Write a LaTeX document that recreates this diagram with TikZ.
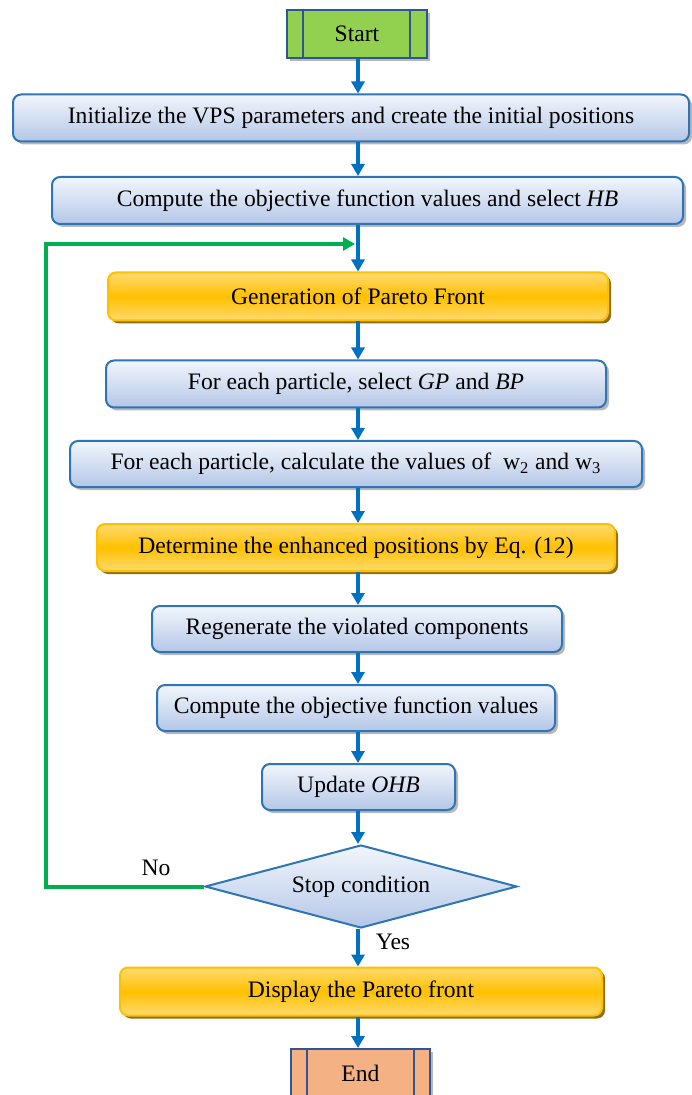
\documentclass[tikz,border=0pt]{standalone}
\usepackage{fontspec}
\setmainfont{Liberation Serif}
\usetikzlibrary{shapes.geometric,shadows,arrows.meta}
\definecolor{flowblue}{HTML}{0070C0}
\definecolor{boxedge}{HTML}{2E75B6}
\definecolor{termedge}{HTML}{2F5597}
\definecolor{loopgreen}{HTML}{00B050}
\definecolor{startgreen}{HTML}{92D050}
\definecolor{endorange}{HTML}{F4B183}
\definecolor{gold}{HTML}{FFC000}
\definecolor{goldlight}{HTML}{FFDA70}
\definecolor{goldshade}{HTML}{7F6000}
\definecolor{bluelight}{HTML}{F2F6FC}
\definecolor{bluedark}{HTML}{B4C7E7}
\begin{document}
\begin{tikzpicture}[x=0.5pt,y=-0.5pt,
    font=\rmfamily\fontsize{11.8}{14}\selectfont,
    stepbox/.style={draw=boxedge,line width=1pt,rounded corners=4pt,
      top color=bluelight,bottom color=bluedark,
      drop shadow={shadow xshift=1.5pt,shadow yshift=-1.5pt,fill=gray!70,opacity=.8},
      inner sep=0pt,minimum height=23.5pt},
    keybox/.style={draw=gold,line width=1pt,rounded corners=4pt,
      top color=goldlight,bottom color=goldlight,middle color=gold,
      drop shadow={shadow xshift=1.5pt,shadow yshift=-1.5pt,fill=goldshade,opacity=.9},
      inner sep=0pt,minimum height=24pt},
    termbox/.style={draw=termedge,line width=1pt,inner sep=0pt,
      minimum height=24pt,minimum width=70pt,
      drop shadow={shadow xshift=1.5pt,shadow yshift=-1.5pt,fill=gray!70,opacity=.8}},
    termline/.style={draw=termedge,line width=1pt},
    testbox/.style={diamond,draw=boxedge,line width=1pt,aspect=3.75,inner sep=0pt,
      top color=bluelight,bottom color=bluedark,
      minimum width=156pt,minimum height=41.5pt},
    flow/.style={draw=flowblue,line width=2pt,-{Triangle[width=6.5pt,length=6pt]}},
    loop/.style={draw=loopgreen,line width=2pt,-{Triangle[width=6.5pt,length=6pt]}}]
  \useasboundingbox (0,0) rectangle (691,1095);
  \coordinate (spine) at (358,0);

  \node[termbox,fill=startgreen] (start) at (357,34) {Start};
  \node[stepbox,minimum width=338pt] (init) at (351,118)
    {Initialize the VPS parameters and create the initial positions};
  \node[stepbox,minimum width=315.5pt] (comp) at (367.5,200.5)
    {Compute the objective function values and select \textit{HB}};
  \node[keybox,minimum width=250pt] (gen) at (358,296.5) {Generation of Pareto Front};
  \node[stepbox,minimum width=250pt] (sel) at (356,384)
    {For each particle, select \textit{GP} and \textit{BP}};
  \node[stepbox,minimum width=286pt,minimum height=23pt] (wval) at (356,464)
    {For each particle, calculate the values of~ w\textsubscript{2} and w\textsubscript{3}};
  \node[keybox,minimum width=259pt,minimum height=23.5pt] (det) at (356,547.5)
    {Determine the enhanced positions by Eq. (12)};
  \node[stepbox,minimum width=205pt,minimum height=23pt] (regen) at (357,629)
    {Regenerate the violated components};
  \node[stepbox,minimum width=199pt,minimum height=23pt] (cobj) at (356,708)
    {Compute the objective function values};
  \node[stepbox,minimum width=96.5pt,minimum height=23pt] (upd) at (358.5,787)
    {Update \textit{OHB}};
  \node[testbox] (stop) at (361,886.5) {Stop condition};
  \node[keybox,minimum width=241pt] (disp) at (361,991.5) {Display the Pareto front};
  \node[termbox,fill=endorange,minimum width=69.5pt] (end) at (360.5,1073) {End};

  % side bars of the terminal boxes
  \draw[termline] ([xshift=8.5pt]start.north west) -- ([xshift=8.5pt]start.south west);
  \draw[termline] ([xshift=-9pt]start.north east) -- ([xshift=-9pt]start.south east);
  \draw[termline] ([xshift=8.5pt]end.north west) -- ([xshift=8.5pt]end.south west);
  \draw[termline] ([xshift=-8.5pt]end.north east) -- ([xshift=-8.5pt]end.south east);

  \coordinate (back) at (46,244);
  \coordinate (join) at (355,244);
  \begin{scope}
    \draw[flow] (start.south -| spine) -- (init.north -| spine);
    \draw[flow] (init.south -| spine) -- (comp.north -| spine);
    \draw[flow] (comp.south -| spine) -- (gen.north -| spine);
    \draw[flow] (gen.south -| spine) -- (sel.north -| spine);
    \draw[flow] (sel.south -| spine) -- (wval.north -| spine);
    \draw[flow] (wval.south -| spine) -- (det.north -| spine);
    \draw[flow] (det.south -| spine) -- (regen.north -| spine);
    \draw[flow] (regen.south -| spine) -- (cobj.north -| spine);
    \draw[flow] (cobj.south -| spine) -- (upd.north -| spine);
    \draw[flow] (upd.south -| spine) -- (stop.north -| spine);
    \draw[flow] (stop.south -| spine) -- (disp.north -| spine);
    \draw[flow] (disp.south -| spine) -- (end.north -| spine);
    \draw[loop] (stop.west) -| (back) -- (join);
  \end{scope}
  \node (no) at (156,868) {No};
  \node (yes) at (393,942) {Yes};
\end{tikzpicture}
\end{document}
